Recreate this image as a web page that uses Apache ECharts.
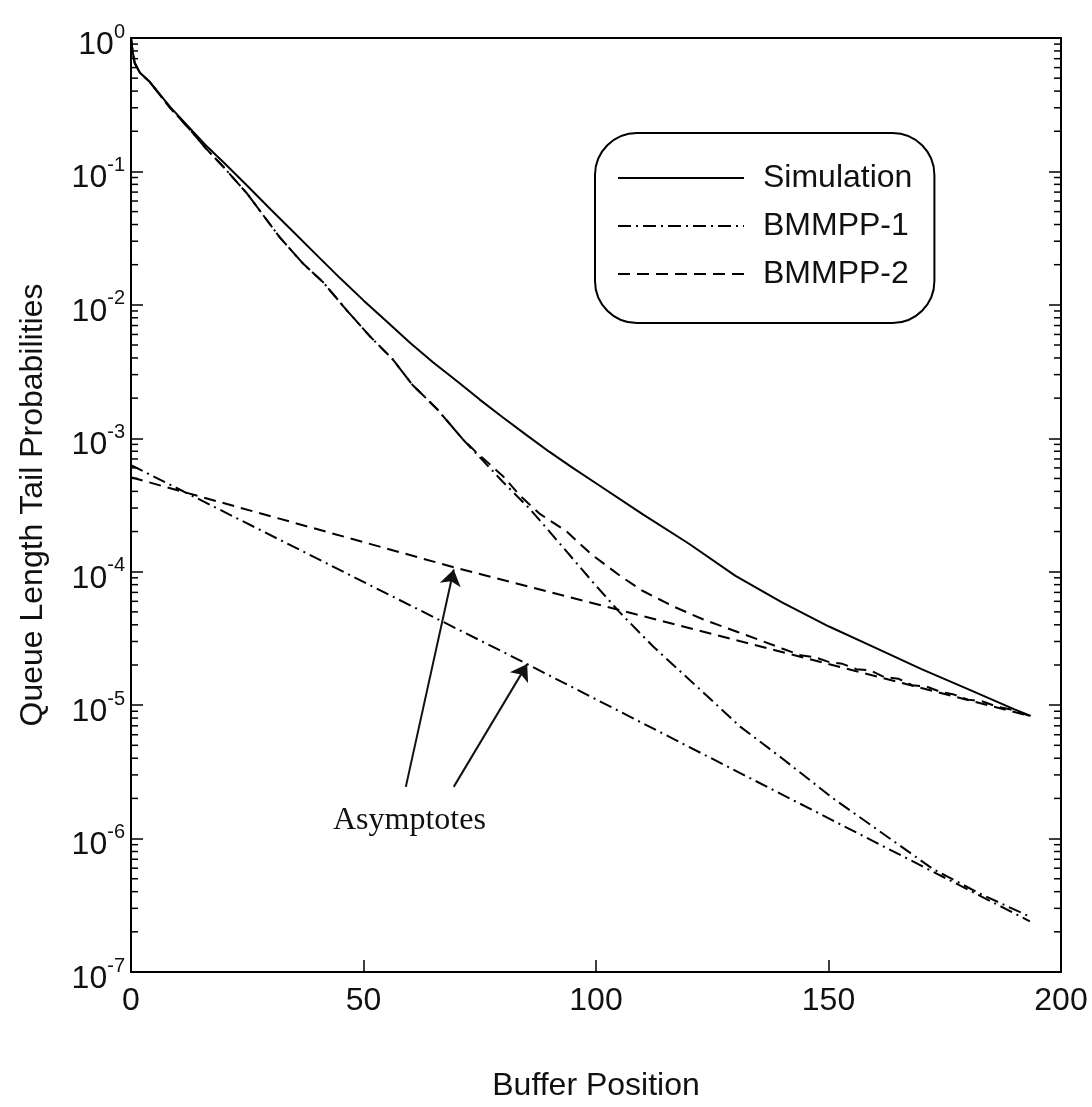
<!DOCTYPE html>
<html>
<head>
<meta charset="utf-8">
<script src="https://cdn.jsdelivr.net/npm/echarts@6/dist/echarts.min.js"></script>
<style>
html,body{margin:0;padding:0;background:#fff;}
#chart{width:1092px;height:1107px;}
</style>
</head>
<body>
<div id="chart"></div>
<script>
// ---------- data ----------
const xSim = [0,0.3,0.8,1.9,4,8.4,13,16,20,25,30,35,40,45,50,55,60,65,70,75,80,85,90,95,100,110,120,130,140,150,160,170,180,190,193.5];
const ySim = [1,0.81,0.65,0.55,0.47,0.305,0.205,0.158,0.116,0.078,0.052,0.035,0.0235,0.0158,0.0108,0.0075,0.0052,0.0037,0.0027,0.00195,0.00143,0.00106,0.00079,0.0006,0.00046,0.00027,0.000162,9.3e-5,5.9e-5,3.9e-5,2.7e-5,1.86e-5,1.32e-5,9.3e-6,8.3e-6];

const xB1 = [0,0.3,0.8,1.9,4,8.4,13,16,20,25,32,37,41.3,46.4,51.4,56.3,60.6,65.8,71.4,75.7,80,85.8,90,99.4,105,112.3,123.9,131,140,151,160,172.5,183,193.3];
const yB1 = [1,0.81,0.65,0.55,0.47,0.30,0.20,0.15,0.107,0.068,0.032,0.0204,0.0148,0.0091,0.0058,0.0039,0.0025,0.00166,0.00098,0.00068,0.00047,0.000295,0.0002,8.3e-5,5.0e-5,2.75e-5,1.17e-5,6.9e-6,4.0e-6,2.0e-6,1.2e-6,5.9e-7,3.8e-7,2.6e-7];

const xB2 = [0,0.3,0.8,1.9,4,8.4,13,16,20,25,32,37,41.3,46.4,51.4,56.3,60.6,65.8,71.4,74.4,80,83.7,88,93.7,99,105.2,110,116.6,123,130.3,136,140,144,147,150,153,156,159,162,165,168,171,174,177,180,183,186,189,193.3];
const yB2 = [1,0.81,0.65,0.55,0.47,0.30,0.20,0.15,0.107,0.068,0.032,0.0204,0.0148,0.0091,0.0058,0.0039,0.0025,0.00166,0.00098,0.000776,0.00052,0.00037,0.00027,0.0002,0.000135,9.3e-5,7.2e-5,5.5e-5,4.4e-5,3.55e-5,3.0e-5,2.66e-5,2.37e-5,2.29e-5,2.11e-5,2.04e-5,1.86e-5,1.82e-5,1.62e-5,1.58e-5,1.41e-5,1.38e-5,1.26e-5,1.2e-5,1.1e-5,1.07e-5,9.8e-6,9.3e-6,8.3e-6];

// asymptotes
const xAsym1 = [0,85.2,193.3];
const yAsym1 = [6.3e-4,2.03e-5,2.4e-7];
const xAsym2 = [0,69.4,193.3];
const yAsym2 = [5.1e-4,1.08e-4,8.3e-6];

// arrow annotations (tail -> tip), data coordinates
const arrowTails = [[59.1,2.44e-6],[69.4,2.44e-6]];
const arrowTips  = [[69.4,1.04e-4],[85.2,2.03e-5]];

const xTicks = [0,50,100,150,200];
const yExponents = [0,-1,-2,-3,-4,-5,-6,-7];
const legendNames = ['Simulation','BMMPP-1','BMMPP-2'];
const annotationText = 'Asymptotes';

// ---------- helpers ----------
const pairs = (xs, ys) => xs.map((x,i)=>[x, ys[i]]);
const minorVals = [];
for (let e = -7; e < 0; e++) for (let k = 2; k <= 9; k++) minorVals.push([0, k*Math.pow(10,e)]);

const SANS = "'Liberation Sans', Arial, Helvetica, sans-serif";
const SERIF = "'Liberation Serif', 'Times New Roman', serif";
const DASHDOT = [13,5,2,5];
const DASH = [12,7];

const chart = echarts.init(document.getElementById('chart'), null, {renderer:'canvas'});

const yLabelFmt = v => {
  const e = Math.round(Math.log10(v));
  return '{b|10}{s|' + e + '}';
};

const option = {
  backgroundColor:'#fff',
  animation:false,
  grid:{left:131, right:31, top:38, bottom:134, containLabel:false},
  legend:{
    data: legendNames,
    orient:'vertical',
    left:595, top:133,
    backgroundColor:'#fff',
    borderColor:'#000', borderWidth:2, borderRadius:42,
    padding:[29,22,33,22],
    itemWidth:126, itemHeight:14, itemGap:16,
    selectedMode:false,
    itemStyle:{color:'rgba(0,0,0,0)', borderWidth:0, opacity:0},
    textStyle:{fontFamily:SANS, fontSize:32, color:'#111', lineHeight:32, padding:[0,0,0,14]}
  },
  xAxis:[{
    type:'value', min:0, max:200, interval:50,
    name:'Buffer Position', nameLocation:'middle', nameGap:98,
    nameTextStyle:{fontFamily:SANS, fontSize:32, color:'#111'},
    axisLine:{show:true, onZero:false, lineStyle:{color:'#000', width:2}},
    axisTick:{show:true, inside:true, length:12, lineStyle:{color:'#000', width:1.5},
      customValues: xTicks},
    axisLabel:{fontFamily:SANS, fontSize:32, color:'#111', margin:13,
      customValues: xTicks, formatter: v => String(v)},
    splitLine:{show:false}
  },{
    type:'value', min:0, max:200, interval:50, position:'top',
    axisLine:{show:true, onZero:false, lineStyle:{color:'#000', width:2}},
    axisTick:{show:false}, axisLabel:{show:false}, splitLine:{show:false}
  }],
  yAxis:[{
    type:'log', logBase:10, min:1e-7, max:1, splitNumber:7,
    name:'Queue Length Tail Probabilities', nameLocation:'middle', nameGap:82,
    nameTextStyle:{fontFamily:SANS, fontSize:32, color:'#111'},
    axisLine:{show:true, onZero:false, lineStyle:{color:'#000', width:2}},
    axisTick:{show:true, inside:true, length:12, lineStyle:{color:'#000', width:1.5}},
    axisLabel:{margin:6, formatter:yLabelFmt,
      rich:{
        b:{fontFamily:SANS, fontSize:32, color:'#111', lineHeight:32, padding:[14,0,0,0]},
        s:{fontFamily:SANS, fontSize:20, color:'#111', lineHeight:20, verticalAlign:'top'}
      }},
    splitLine:{show:false}, minorTick:{show:false}
  },{
    type:'log', logBase:10, min:1e-7, max:1, splitNumber:7, position:'right',
    axisLine:{show:true, onZero:false, lineStyle:{color:'#000', width:2}},
    axisTick:{show:true, inside:true, length:12, lineStyle:{color:'#000', width:1.5}},
    axisLabel:{show:false}, splitLine:{show:false}
  }],
  graphic:[{
    type:'text', left:333, top:805, silent:true,
    style:{text:annotationText, font:'32px ' + SERIF, fill:'#111'}
  }],
  series:[
    {
      name:'Simulation', type:'line', data:pairs(xSim,ySim), symbol:'none', smooth:false,
      lineStyle:{color:'#000', width:2, type:'solid'}, itemStyle:{color:'#000'}, z:5,
      markLine:{
        silent:true, symbol:['none','arrow'], symbolSize:16, precision:10,
        label:{show:false},
        lineStyle:{color:'#111', width:2, type:'solid'},
        data: arrowTails.map((t,i)=>[{coord:t},{coord:arrowTips[i]}])
      }
    },
    {
      name:'BMMPP-1', type:'line', data:pairs(xB1,yB1), symbol:'none',
      lineStyle:{color:'#000', width:2, type:DASHDOT}, itemStyle:{color:'#000'}, z:4
    },
    {
      name:'BMMPP-2', type:'line', data:pairs(xB2,yB2), symbol:'none',
      lineStyle:{color:'#000', width:2, type:DASH}, itemStyle:{color:'#000'}, z:4
    },
    {
      name:'BMMPP-1 asymptote', type:'line', data:pairs(xAsym1,yAsym1), symbol:'none',
      lineStyle:{color:'#000', width:2, type:DASHDOT}, itemStyle:{color:'#000'}, z:3
    },
    {
      name:'BMMPP-2 asymptote', type:'line', data:pairs(xAsym2,yAsym2), symbol:'none',
      lineStyle:{color:'#000', width:2, type:DASH}, itemStyle:{color:'#000'}, z:3
    },
    {
      name:'minor ticks', type:'custom', silent:true, data:minorVals,
      encode:{x:0, y:1},
      renderItem:(params, api) => {
        const y = api.coord([0, api.value(1)])[1];
        const cs = params.coordSys;
        const st = {stroke:'#000', lineWidth:1.5};
        return {type:'group', children:[
          {type:'line', shape:{x1:cs.x, y1:y, x2:cs.x+7, y2:y}, style:st},
          {type:'line', shape:{x1:cs.x+cs.width-7, y1:y, x2:cs.x+cs.width, y2:y}, style:st}
        ]};
      },
      z:6
    }
  ]
};
chart.setOption(option);
</script>
</body>
</html>
